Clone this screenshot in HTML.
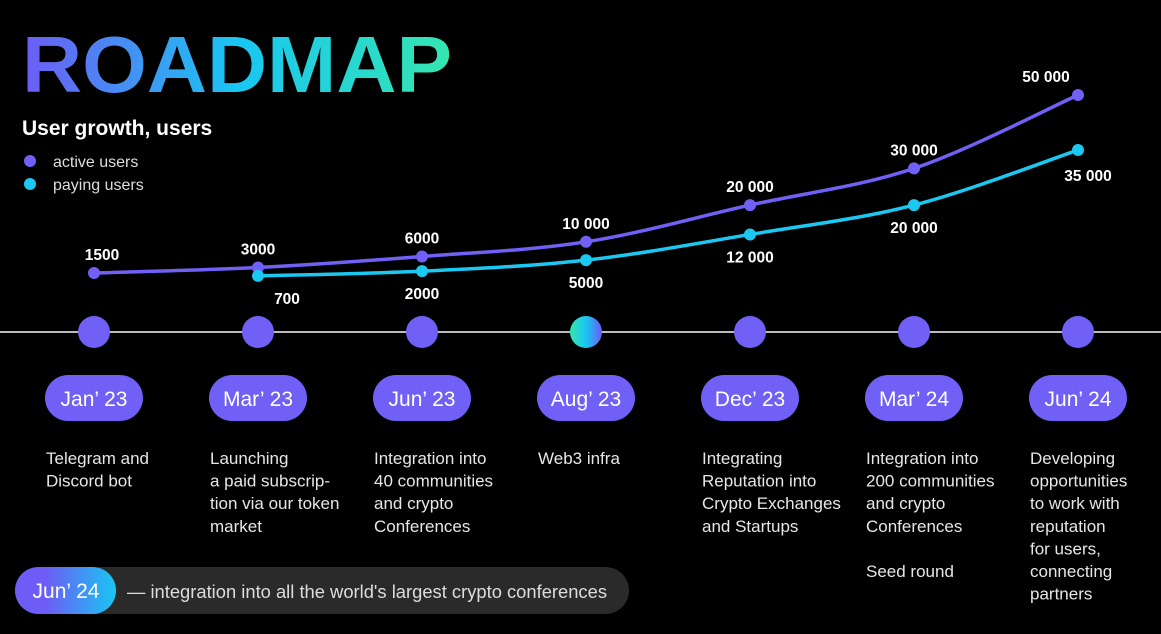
<!DOCTYPE html>
<html><head><meta charset="utf-8"><style>
html,body{margin:0;padding:0;background:#000;}
svg{display:block;}
.cond{font-family:"Liberation Sans Narrow","Liberation Sans",sans-serif;}
</style></head><body>
<svg id="chart" width="1161" height="634" viewBox="0 0 1161 634" xmlns="http://www.w3.org/2000/svg">
<defs>
<linearGradient id="tg" x1="22" y1="0" x2="452" y2="0" gradientUnits="userSpaceOnUse">
<stop offset="0" stop-color="#6d5cf5"/><stop offset="0.5" stop-color="#19c6f2"/><stop offset="1" stop-color="#35e6b0"/></linearGradient>
<linearGradient id="dg" x1="0" y1="0" x2="1" y2="0"><stop offset="0" stop-color="#35e6b0"/><stop offset="0.5" stop-color="#19c6f2"/><stop offset="1" stop-color="#6d5cf5"/></linearGradient>
<linearGradient id="pg" x1="0" y1="0" x2="1" y2="0"><stop offset="0.3" stop-color="#6d5cf5"/><stop offset="1" stop-color="#19c6f2"/></linearGradient>
</defs>
<rect width="1161" height="634" fill="#000"/>
<text x="22" y="92" font-family="Liberation Sans, sans-serif" font-weight="bold" font-size="80" fill="url(#tg)" textLength="430" lengthAdjust="spacingAndGlyphs">ROADMAP</text>
<text x="22" y="135" font-family="Liberation Sans, sans-serif" font-weight="bold" font-size="21" fill="#fff">User growth, users</text>
<circle cx="30" cy="161" r="6" fill="#7060f5"/>
<text x="53" y="167" font-family="Liberation Sans, sans-serif" font-size="16" fill="#ddd">active users</text>
<circle cx="30" cy="184" r="6" fill="#1ac8f2"/>
<text x="53" y="190" font-family="Liberation Sans, sans-serif" font-size="16" fill="#ddd">paying users</text>
<line x1="0" y1="332" x2="1161" y2="332" stroke="#bbb" stroke-width="2"/>
<g id="marks"></g>
<rect x="15" y="567" width="614" height="47" rx="23.5" fill="#2a2a2a"/>
<rect x="15" y="567" width="101" height="47" rx="23.5" fill="url(#pg)"/>
<text x="66" y="598" text-anchor="middle" class="cond" font-size="21" fill="#fff">Jun’ 24</text>
<text x="127" y="598" class="cond" font-size="18" fill="#ddd" textLength="480" lengthAdjust="spacingAndGlyphs">— integration into all the world's largest crypto conferences</text>
</svg>
<script>
const categories=["Jan’ 23","Mar’ 23","Jun’ 23","Aug’ 23","Dec’ 23","Mar’ 24","Jun’ 24"];
const activeUsers=[1500,3000,6000,10000,20000,30000,50000];
const activeLabels=["1500","3000","6000","10 000","20 000","30 000","50 000"];
const payingUsers=[null,700,2000,5000,12000,20000,35000];
const payingLabels=["","700","2000","5000","12 000","20 000","35 000"];
const descriptions=[["Telegram and","Discord bot"],["Launching","a paid subscrip-","tion via our token","market"],["Integration into","40 communities","and crypto","Conferences"],["Web3 infra"],["Integrating","Reputation into","Crypto Exchanges","and Startups"],["Integration into","200 communities","and crypto","Conferences","","Seed round"],["Developing","opportunities","to work with","reputation","for users,","connecting","partners"]];
const NS="http://www.w3.org/2000/svg";
const g=document.getElementById('marks');
function xs(i){return 94+i*164;}
function ys(v){return 278.5-v*0.00367;}
function mk(t,a,p){const e=document.createElementNS(NS,t);for(const k in a)e.setAttribute(k,a[k]);(p||g).appendChild(e);return e;}
function path(vals,color,name){let pts=[];vals.forEach((v,i)=>{if(v!==null)pts.push([xs(i),ys(v)]);});
 let d="M"+pts[0][0]+","+pts[0][1];
 for(let i=1;i<pts.length;i++){const p0=pts[Math.max(0,i-2)],p1=pts[i-1],p2=pts[i],p3=pts[Math.min(pts.length-1,i+1)];
  const c1=[p1[0]+(p2[0]-p0[0])/6,p1[1]+(p2[1]-p0[1])/6],c2=[p2[0]-(p3[0]-p1[0])/6,p2[1]-(p3[1]-p1[1])/6];
  d+=" C"+c1+" "+c2+" "+p2;}
 const e=mk('path',{d:d,fill:'none',stroke:color,'stroke-width':3.5});
 
 }
path(activeUsers,'#7060f5','active-users-line');
path(payingUsers,'#1ac8f2','paying-users-line');
activeUsers.forEach((v,i)=>{
 const c=mk('circle',{cx:xs(i),cy:ys(v),r:6,fill:'#7060f5'});
 
 
 const t=mk('text',{x:xs(i)+(i==0?8:(i==6?-32:0)),y:ys(v)-13,'text-anchor':'middle','font-family':'Liberation Sans, sans-serif','font-weight':'bold','font-size':15.5,fill:'#fff'});
 t.textContent=activeLabels[i];
 
 });
payingUsers.forEach((v,i)=>{if(v===null)return;
 const c=mk('circle',{cx:xs(i),cy:ys(v),r:6,fill:'#1ac8f2'});
 
 
 const last=i==payingUsers.length-1;
 const t=mk('text',{x:xs(i)+(last?10:(i==1?29:0)),y:ys(v)+(last?31:28),'text-anchor':'middle','font-family':'Liberation Sans, sans-serif','font-weight':'bold','font-size':15.5,fill:'#fff'});
 t.textContent=payingLabels[i];
 
 });
categories.forEach((c,i)=>{const x=xs(i);
 const dot=mk('ellipse',{cx:x,cy:332,rx:16,ry:16,fill:i==3?'url(#dg)':'#7060f5'});
 
 
 const r=mk('rect',{x:x-49,y:375,width:98,height:46,rx:23,fill:'#7060f5'});
 
 
 const t=mk('text',{x:x,y:406,'text-anchor':'middle','class':'cond','font-size':21,fill:'#fff'});
 t.textContent=c;
 
 
 const d=mk('text',{x:x-48,y:464,'class':'cond','font-size':17,fill:'#e6e6e6'});
 
 
 descriptions[i].forEach((l,j)=>{const s=mk('tspan',{x:x-48,y:464+j*22.6},d);s.textContent=l;});
});
</script>
</body></html>
